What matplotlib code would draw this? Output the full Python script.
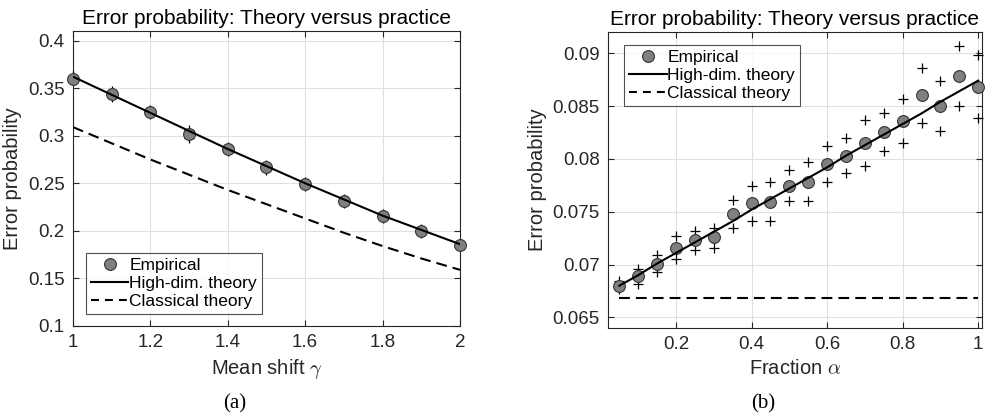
import numpy as np
import matplotlib
matplotlib.use("Agg")
import matplotlib.pyplot as plt

plt.rcParams["font.family"] = ["Liberation Sans", "DejaVu Sans"]
plt.rcParams["mathtext.fontset"] = "cm"

# ---- panel (a): error vs mean shift gamma
gamma = [1.0, 1.1, 1.2, 1.3, 1.4, 1.5, 1.6, 1.7, 1.8, 1.9, 2.0]
emp_a = [0.360, 0.344, 0.325, 0.302, 0.286, 0.267, 0.249, 0.231, 0.216, 0.200, 0.185]
emp_a_hi = [0.3625, 0.3465, 0.327, 0.306, 0.288, 0.2695, 0.251, 0.233, 0.218, 0.2015, 0.1865]
emp_a_lo = [0.358, 0.341, 0.323, 0.298, 0.284, 0.264, 0.247, 0.229, 0.213, 0.198, 0.184]
hd_a = [0.362, 0.343, 0.324, 0.305, 0.286, 0.268, 0.250, 0.233, 0.216, 0.201, 0.186]
cl_a = [0.309, 0.292, 0.275, 0.259, 0.243, 0.228, 0.213, 0.198, 0.184, 0.171, 0.159]

# ---- panel (b): error vs fraction alpha
alpha = [0.05, 0.10, 0.15, 0.20, 0.25, 0.30, 0.35, 0.40, 0.45, 0.50,
         0.55, 0.60, 0.65, 0.70, 0.75, 0.80, 0.85, 0.90, 0.95, 1.00]
emp_b = [0.0680, 0.0689, 0.0701, 0.0716, 0.0723, 0.0726, 0.0748, 0.0758, 0.0759, 0.0774,
         0.0778, 0.0795, 0.0803, 0.0815, 0.0825, 0.0836, 0.0860, 0.0850, 0.0878, 0.0868]
emp_b_hi = [0.0684, 0.0696, 0.0709, 0.0727, 0.0732, 0.0735, 0.0761, 0.0774, 0.0778, 0.0789,
            0.0797, 0.0812, 0.0820, 0.0837, 0.0843, 0.0857, 0.0886, 0.0874, 0.0907, 0.0898]
emp_b_lo = [0.0677, 0.0682, 0.0693, 0.0705, 0.0714, 0.0716, 0.0735, 0.0741, 0.0741, 0.0760,
            0.0760, 0.0778, 0.0787, 0.0793, 0.0807, 0.0815, 0.0834, 0.0826, 0.0850, 0.0839]
hd_b = [0.0680, 0.0690, 0.0701, 0.0711, 0.0721, 0.0731, 0.0741, 0.0752, 0.0762, 0.0772,
        0.0782, 0.0792, 0.0803, 0.0813, 0.0823, 0.0833, 0.0843, 0.0854, 0.0864, 0.0874]
cl_b = [0.0668] * len(alpha)

AX_COL = "0.15"
TICK_FS, LAB_FS, TIT_FS, LEG_FS = 13.5, 14.5, 15, 12.5

fig = plt.figure(figsize=(9.93, 4.18), dpi=100)
axa = fig.add_axes([0.0735, 0.2201, 0.3897, 0.7057])
axb = fig.add_axes([0.6123, 0.2153, 0.3766, 0.7081])


def style(ax):
    ax.grid(True, color="0.88", lw=0.8)
    ax.set_axisbelow(True)
    ax.tick_params(direction="in", top=True, right=True, length=4,
                   width=0.8, colors=AX_COL, labelsize=TICK_FS, pad=6)
    for s in ax.spines.values():
        s.set_color(AX_COL)
        s.set_linewidth(0.8)


def draw(ax, x, emp, hi, lo, hd, cl):
    ax.plot(x, hi, "+", color="k", ms=7, mew=0.9, clip_on=False, zorder=3)
    ax.plot(x, lo, "+", color="k", ms=7, mew=0.9, clip_on=False, zorder=3)
    ax.plot(x, emp, "o", color="0.5", mec="0.2", ms=8.5, mew=0.8,
            clip_on=False, zorder=4, label="Empirical")
    ax.plot(x, hd, "-", color="k", lw=1.5, zorder=5, label="High-dim. theory")
    ax.plot(x, cl, "--", color="k", lw=1.5, dashes=(5.2, 2.9), zorder=5,
            label="Classical theory")


def legend(ax, loc, anchor):
    leg = ax.legend(loc=loc, bbox_to_anchor=anchor, fontsize=LEG_FS,
                    frameon=True, fancybox=False, edgecolor=AX_COL,
                    handlelength=2.15, handletextpad=0.05, borderpad=0.3,
                    labelspacing=0.15, borderaxespad=0)
    leg.get_frame().set_linewidth(0.8)
    leg.get_lines()[2].set_dashes((3.8, 2.9))


draw(axa, gamma, emp_a, emp_a_hi, emp_a_lo, hd_a, cl_a)
axa.set_xlim(1, 2)
axa.set_ylim(0.1, 0.41)
axa.set_xticks([1, 1.2, 1.4, 1.6, 1.8, 2])
axa.set_xticklabels(["1", "1.2", "1.4", "1.6", "1.8", "2"])
axa.set_yticks([0.1, 0.15, 0.2, 0.25, 0.3, 0.35, 0.4])
axa.set_yticklabels(["0.1", "0.15", "0.2", "0.25", "0.3", "0.35", "0.4"])
style(axa)
axa.set_xlabel(r"Mean shift $\gamma$", fontsize=LAB_FS, color=AX_COL, labelpad=4)
axa.set_ylabel("Error probability", fontsize=LAB_FS, color=AX_COL, labelpad=4)
axa.set_title("Error probability: Theory versus practice", fontsize=TIT_FS, pad=5)
legend(axa, "lower left", (0.033, 0.04))

draw(axb, alpha, emp_b, emp_b_hi, emp_b_lo, hd_b, cl_b)
axb.set_xlim(0.02, 1.01)
axb.set_ylim(0.064, 0.092)
axb.set_xticks([0.2, 0.4, 0.6, 0.8, 1.0])
axb.set_xticklabels(["0.2", "0.4", "0.6", "0.8", "1"])
axb.set_yticks([0.065, 0.07, 0.075, 0.08, 0.085, 0.09])
axb.set_yticklabels(["0.065", "0.07", "0.075", "0.08", "0.085", "0.09"])
style(axb)
axb.set_xlabel(r"Fraction $\alpha$", fontsize=LAB_FS, color=AX_COL, labelpad=4)
axb.set_ylabel("Error probability", fontsize=LAB_FS, color=AX_COL, labelpad=4)
axb.set_title("Error probability: Theory versus practice", fontsize=TIT_FS, pad=5)
legend(axb, "upper left", (0.043, 0.956))

fig.text(0.2367, 0.022, "(a)", family="Liberation Serif", fontsize=15, ha="center")
fig.text(0.7683, 0.022, "(b)", family="Liberation Serif", fontsize=15, ha="center")

fig.savefig("out.png", dpi=100)
